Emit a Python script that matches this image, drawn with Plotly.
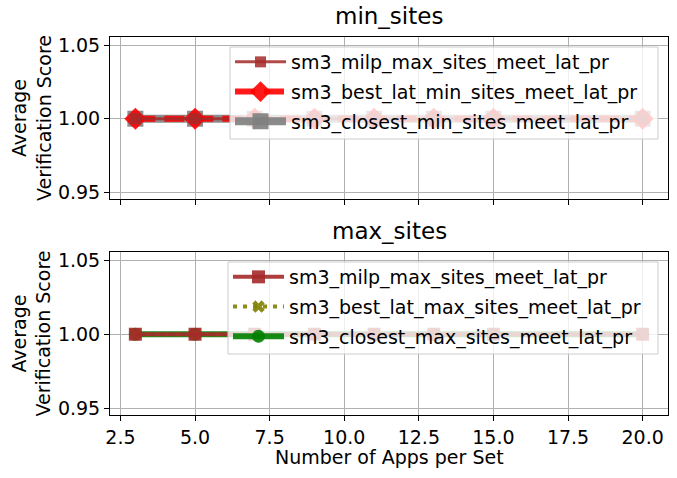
import plotly.graph_objects as go

# ---- data ----
apps_per_set = [3, 5, 7, 9, 11, 13, 15, 20]

min_milp = [1.0, 1.0, 1.0, 1.0, 1.0, 1.0, 1.0, 1.0]
min_best_lat = [1.0, 1.0, 1.0, 1.0, 1.0, 1.0, 1.0, 1.0]
min_closest = [1.0, 1.0, 1.0, 1.0, 1.0, 1.0, 1.0, 1.0]

max_milp = [1.0, 1.0, 1.0, 1.0, 1.0, 1.0, 1.0, 1.0]
max_best_lat = [1.0, 1.0, 1.0, 1.0, 1.0, 1.0, 1.0, 1.0]
max_closest = [1.0, 1.0, 1.0, 1.0, 1.0, 1.0, 1.0, 1.0]

subplot_titles = ["min_sites", "max_sites"]
x_label = "Number of Apps per Set"
y_label = "Average<br>Verification Score"

FONT = "DejaVu Sans"

fig = go.Figure()

# ---- top subplot (min_sites) ----  drawn bottom-to-top, legend order via legendrank
fig.add_trace(go.Scatter(
    x=apps_per_set, y=min_closest, name="sm3_closest_min_sites_meet_lat_pr",
    mode="lines+markers", line=dict(color="rgba(128,128,128,0.9)", width=8),
    marker=dict(symbol="square", size=16, color="rgba(128,128,128,0.9)"),
    xaxis="x", yaxis="y", legend="legend", legendrank=3, legendgroup="a3"))
fig.add_trace(go.Scatter(
    x=apps_per_set, y=min_best_lat, name="sm3_best_lat_min_sites_meet_lat_pr",
    mode="lines+markers", line=dict(color="rgba(255,0,0,0.9)", width=6, dash="20px,9px"),
    marker=dict(symbol="diamond", size=17, color="rgba(255,0,0,0.9)"),
    xaxis="x", yaxis="y", legend="legend", legendrank=2, legendgroup="a2"))
fig.add_trace(go.Scatter(
    x=apps_per_set, y=min_milp, name="sm3_milp_max_sites_meet_lat_pr",
    mode="lines+markers", line=dict(color="rgba(165,42,42,0.85)", width=3),
    marker=dict(symbol="square", size=11, color="rgba(165,42,42,0.85)"),
    xaxis="x", yaxis="y", legend="legend", legendrank=1, legendgroup="a1"))

# ---- bottom subplot (max_sites) ----
fig.add_trace(go.Scatter(
    x=apps_per_set, y=max_closest, name="sm3_closest_max_sites_meet_lat_pr",
    mode="lines+markers", line=dict(color="rgba(0,128,0,0.9)", width=6),
    marker=dict(symbol="circle", size=13, color="rgba(0,128,0,0.9)"),
    xaxis="x2", yaxis="y2", legend="legend2", legendrank=3, legendgroup="b3"))
fig.add_trace(go.Scatter(
    x=apps_per_set, y=max_best_lat, name="sm3_best_lat_max_sites_meet_lat_pr",
    mode="lines+markers", line=dict(color="rgba(128,128,0,0.9)", width=4, dash="4px,6px"),
    marker=dict(symbol="x", size=11, color="rgba(128,128,0,0.9)"),
    xaxis="x2", yaxis="y2", legend="legend2", legendrank=2, legendgroup="b2"))
fig.add_trace(go.Scatter(
    x=apps_per_set, y=max_milp, name="sm3_milp_max_sites_meet_lat_pr",
    mode="lines+markers", line=dict(color="rgba(165,42,42,0.9)", width=4),
    marker=dict(symbol="square", size=13, color="rgba(165,42,42,0.9)"),
    xaxis="x2", yaxis="y2", legend="legend2", legendrank=1, legendgroup="b1"))

L, R, T, B = 110, 9, 37, 63
W, H = 677, 478
plot_w = W - L - R  # 558
plot_h = H - T - B  # 378
top_dom = [(415 - 199) / plot_h, 1.0]
bot_dom = [0.0, (415 - 252) / plot_h]


def px_x(p):
    return (p - L) / plot_w


def px_y(p):
    return (415 - p) / plot_h


axis_common = dict(
    showline=True, linecolor="black", linewidth=1, mirror=True,
    ticks="outside", ticklen=5, tickwidth=1, tickcolor="black",
    showgrid=True, gridcolor="#b0b0b0", gridwidth=1, zeroline=False,
    tickfont=dict(family=FONT, size=19, color="black"),
)
xr = [2.15, 20.85]
yr = [0.9455, 1.0555]

legend_common = dict(
    xanchor="left", yanchor="top",
    bgcolor="rgba(0,0,0,0)", borderwidth=0,
    font=dict(family=FONT, size=19, color="black"), tracegroupgap=2,
    itemwidth=51, traceorder="grouped",
)

fig.update_layout(
    width=W, height=H,
    margin=dict(l=L, r=R, t=T, b=B),
    paper_bgcolor="white", plot_bgcolor="white",
    font=dict(family=FONT, size=19, color="black"),
    xaxis=dict(domain=[0, 1], anchor="y", range=xr, tickmode="linear", tick0=2.5, dtick=2.5,
               showticklabels=False, matches="x2", **axis_common),
    yaxis=dict(domain=top_dom, anchor="x", range=yr, tickmode="array",
               tickvals=[0.95, 1.0, 1.05], ticktext=["0.95", "1.00", "1.05"], **axis_common),
    xaxis2=dict(domain=[0, 1], anchor="y2", range=xr, tickmode="linear", tick0=2.5, dtick=2.5,
                tickformat=".1f", **axis_common),
    yaxis2=dict(domain=bot_dom, anchor="x2", range=yr, tickmode="array",
                tickvals=[0.95, 1.0, 1.05], ticktext=["0.95", "1.00", "1.05"], **axis_common),
    legend=dict(x=px_x(230), y=px_y(43), **legend_common),
    legend2=dict(x=px_x(228), y=px_y(258), **legend_common),
    showlegend=True,
)

# legend frames (semi-transparent white boxes above the data, like matplotlib's framealpha)
frame_style = dict(type="rect", xref="paper", yref="paper", layer="above",
                   fillcolor="rgba(255,255,255,0.8)", line=dict(color="#cccccc", width=1))
fig.update_layout(shapes=[
    dict(x0=px_x(230), x1=px_x(658), y0=px_y(139), y1=px_y(47), **frame_style),
    dict(x0=px_x(228), x1=px_x(658), y0=px_y(354), y1=px_y(262), **frame_style),
])

annotations = [
    dict(text=subplot_titles[0], xref="paper", yref="paper", x=0.5, y=px_y(31),
         xanchor="center", yanchor="bottom", showarrow=False, font=dict(family=FONT, size=23)),
    dict(text=subplot_titles[1], xref="paper", yref="paper", x=0.5, y=px_y(246),
         xanchor="center", yanchor="bottom", showarrow=False, font=dict(family=FONT, size=23)),
    dict(text=x_label, xref="paper", yref="paper", x=0.5, y=px_y(457),
         xanchor="center", yanchor="middle", showarrow=False, font=dict(family=FONT, size=19)),
    dict(text=y_label, xref="paper", yref="paper", x=px_x(31), y=px_y(118),
         xanchor="center", yanchor="middle", textangle=-90, showarrow=False,
         font=dict(family=FONT, size=19)),
    dict(text=y_label, xref="paper", yref="paper", x=px_x(31), y=px_y(333.5),
         xanchor="center", yanchor="middle", textangle=-90, showarrow=False,
         font=dict(family=FONT, size=19)),
]
fig.update_layout(annotations=annotations)

fig.write_html("out.html")
